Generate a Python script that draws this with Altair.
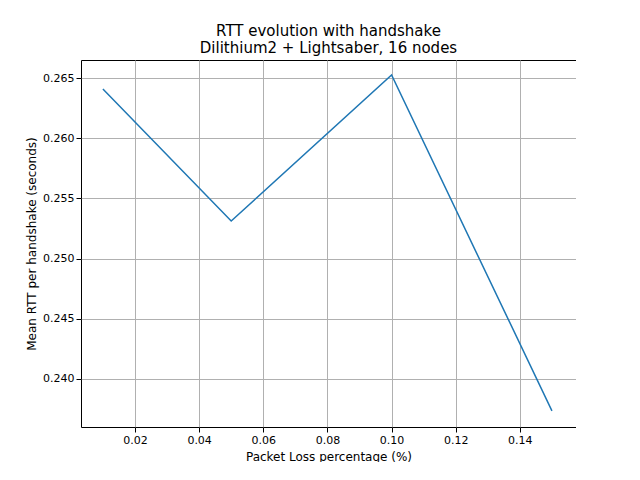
import altair as alt
import pandas as pd

loss = [0.01, 0.05, 0.10, 0.15]
rtt = [0.26409, 0.25312, 0.26525, 0.23734]

df = pd.DataFrame({"loss": loss, "rtt": rtt})

chart = (
    alt.Chart(df)
    .mark_line(color="#1f77b4", strokeWidth=1.5, clip=True)
    .encode(
        x=alt.X(
            "loss:Q",
            title="Packet Loss percentage (%)",
            scale=alt.Scale(domain=[0.00317, 0.1575], nice=False, zero=False),
            axis=alt.Axis(values=[0.02, 0.04, 0.06, 0.08, 0.10, 0.12, 0.14], format=".2f", titlePadding=6),
        ),
        y=alt.Y(
            "rtt:Q",
            title="Mean RTT per handshake (seconds)",
            scale=alt.Scale(domain=[0.236, 0.2665], nice=False, zero=False),
            axis=alt.Axis(values=[0.240, 0.245, 0.250, 0.255, 0.260, 0.265], format=".3f"),
        ),
    )
    .properties(
        width=495,
        height=367,
        title=alt.TitleParams(
            ["RTT evolution with handshake", "Dilithium2 + Lightsaber, 16 nodes"],
            fontSize=15, fontWeight="normal", font="DejaVu Sans", color="black",
        ),
        padding={"left": 17, "top": 16, "right": 0, "bottom": 0},
    )
    .configure_view(stroke="black", strokeWidth=1)
    .configure_axis(
        gridColor="#b0b0b0", gridOpacity=1, domain=False,
        tickColor="black", labelColor="black", titleColor="black",
        labelFont="DejaVu Sans", titleFont="DejaVu Sans",
        labelFontSize=11, titleFontSize=12, titleFontWeight="normal",
    )
)

chart.save("out.html", embed_options={"renderer": "svg", "actions": False})
